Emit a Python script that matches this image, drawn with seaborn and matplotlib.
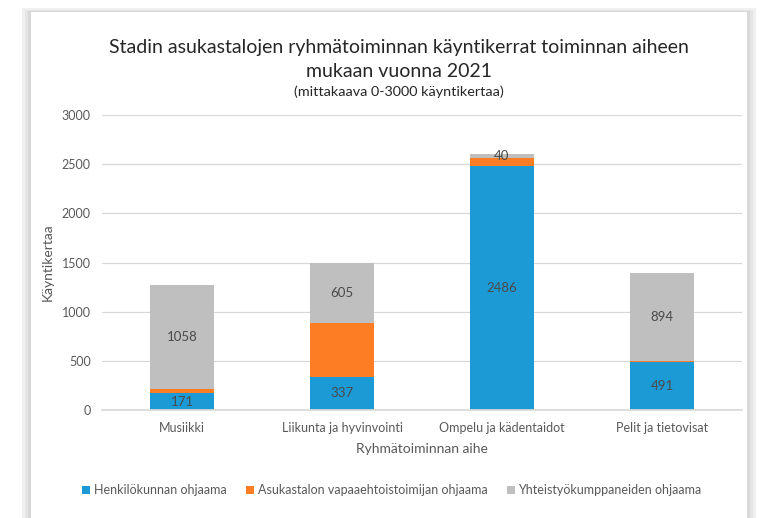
import matplotlib
matplotlib.use("Agg")
import matplotlib.pyplot as plt
import matplotlib.patches as mpatches
import seaborn as sns
import pandas as pd
import numpy as np

categories = ["Musiikki", "Liikunta ja hyvinvointi", "Ompelu ja kädentaidot", "Pelit ja tietovisat"]
henkilokunta = [171, 337, 2486, 491]
vapaaehtoinen = [40, 550, 78, 6]
yhteistyo = [1058, 605, 40, 894]
series_names = ["Henkilökunnan ohjaama", "Asukastalon vapaaehtoistoimijan ohjaama", "Yhteistyökumppaneiden ohjaama"]
colors = ["#1b9ad6", "#fd7d25", "#bfbfbf"]
yticks = [0, 500, 1000, 1500, 2000, 2500, 3000]

sns.set_theme(style="white")
plt.rcParams['font.family'] = ['Lato', 'DejaVu Sans']

fig = plt.figure(figsize=(7.64, 5.18), dpi=100)
fig.patch.set_facecolor("white")
# panel shadow
for (x0, x1, ytop, c) in [(22, 756, 8, "#f0f0f0"), (25, 753, 10, "#e4e4e4"), (28, 750, 11, "#d8d8d8")]:
    fig.patches.append(mpatches.Rectangle((x0/764, 0), (x1 - x0)/764, 1 - ytop/518, transform=fig.transFigure,
                                          facecolor=c, edgecolor="none", zorder=-3))
fig.patches.append(mpatches.Rectangle((31/764, 0), 716/764, 1 - 12/518, transform=fig.transFigure,
                                      facecolor="white", edgecolor="none", zorder=-2))

ax = fig.add_axes([102/764, 1 - 410/518, 640/764, 295/518])
ax.set_facecolor("none")
ax.set_zorder(1)

df = pd.DataFrame({"cat": categories, "h": henkilokunta, "v": vapaaehtoinen, "y": yhteistyo})
b1 = np.array(henkilokunta)
b2 = b1 + np.array(vapaaehtoinen)

kw = dict(width=0.4, ax=ax, saturation=1, linewidth=0, edgecolor="none")
sns.barplot(data=df, x="cat", y="h", color=colors[0], label=series_names[0], **kw)
sns.barplot(data=df, x="cat", y="v", color=colors[1], bottom=b1, label=series_names[1], **kw)
sns.barplot(data=df, x="cat", y="y", color=colors[2], bottom=b2, label=series_names[2], **kw)

txtc = "#4a4a4a"
for i in range(len(categories)):
    ax.text(i, henkilokunta[i] / 2, str(henkilokunta[i]), ha="center", va="center", fontsize=9.5, color=txtc)
    ax.text(i, b2[i] + yhteistyo[i] / 2, str(yhteistyo[i]), ha="center", va="center", fontsize=9.5, color=txtc)

ax.set_ylim(0, 3000)
ax.set_xlim(-0.5, 3.5)
ax.set_yticks(yticks)
ax.yaxis.grid(True, color="#d9d9d9", linewidth=0.9)
ax.set_axisbelow(True)
for s in ["top", "right", "left"]:
    ax.spines[s].set_visible(False)
ax.spines["bottom"].set_color("#d9d9d9")
ax.tick_params(axis="both", length=0, labelsize=9, labelcolor="#595959")
ax.tick_params(axis="y", pad=8)
ax.tick_params(axis="x", pad=9)
ax.set_xlabel("Ryhmätoiminnan aihe", fontsize=10, color="#595959", labelpad=6)
ax.set_ylabel("Käyntikertaa", fontsize=10, color="#595959", labelpad=6)

fig.text(399/764, 1 - 47/518, "Stadin asukastalojen ryhmätoiminnan käyntikerrat toiminnan aiheen",
         ha="center", va="center", fontsize=14, color="#262626")
fig.text(399/764, 1 - 72/518, "mukaan vuonna 2021", ha="center", va="center", fontsize=14, color="#262626")
fig.text(399/764, 1 - 92/518, "(mittakaava 0-3000 käyntikertaa)", ha="center", va="center", fontsize=10.4, color="#262626")

ax.legend(loc="center", bbox_to_anchor=(392/764, 1 - 490/518), bbox_transform=fig.transFigure,
          ncol=3, frameon=False, fontsize=9, labelcolor="#595959", handlelength=0.6, handleheight=0.6,
          handletextpad=0.3, columnspacing=1.6)

fig.savefig("out.png", dpi=100)
